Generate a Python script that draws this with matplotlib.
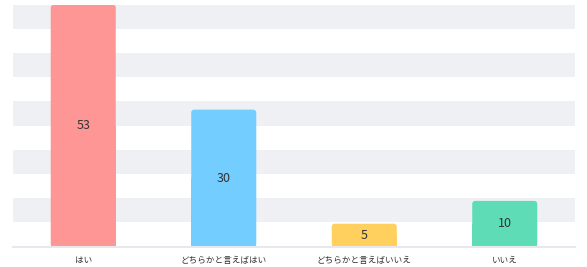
import matplotlib
matplotlib.use("Agg")
import matplotlib.pyplot as plt
from matplotlib.patches import FancyBboxPatch, Rectangle

plt.rcParams['font.family'] = ['Noto Sans CJK JP', 'DejaVu Sans']

categories = ["はい", "どちらかと言えばはい", "どちらかと言えばいいえ", "いいえ"]
values = [53, 30, 5, 10]
colors = ["#FF9696", "#73CDFF", "#FFD05E", "#5DDCB5"]
y_max = 53
n_bands = 10

W, H = 587, 267
fig = plt.figure(figsize=(W / 100, H / 100), dpi=100)
left, right, top, bottom = 13, 575, 4.7, 246.5
ax = fig.add_axes([left / W, (H - bottom) / H, (right - left) / W, (bottom - top) / H])

ax.set_xlim(-0.5, len(categories) - 0.5)
ax.set_ylim(0, y_max)

band = y_max / n_bands
for i in range(n_bands):
    if i % 2 == 1:
        ax.axhspan(i * band, (i + 1) * band, color="#EFF0F4", lw=0, zorder=0)

bars = ax.bar(range(len(categories)), values, width=0.463, color=colors, zorder=2)

# rounded top corners
px_x = (len(categories)) / (right - left)
px_y = y_max / (bottom - top)
for b, c in zip(bars, colors):
    x, y = b.get_x(), b.get_y()
    w, h = b.get_width(), b.get_height()
    b.set_visible(False)
    p = FancyBboxPatch((x, y), w, h,
                       boxstyle=f"round,pad=0,rounding_size={3 * px_x}",
                       mutation_aspect=px_y / px_x,
                       fc=c, ec="none", zorder=2)
    ax.add_patch(p)
    ax.add_patch(Rectangle((x, y), w, h / 2, fc=c, ec="none", zorder=2))
    ax.text(x + w / 2, h / 2, str(int(h)), ha="center", va="center",
            fontsize=9, color="#333333", zorder=3)

for s in ["top", "right", "left"]:
    ax.spines[s].set_visible(False)
ax.spines["bottom"].set_color("#E6E8EE")
ax.spines["bottom"].set_linewidth(1.5)
ax.set_yticks([])
ax.set_xticks(range(len(categories)))
ax.set_xticklabels(categories, fontsize=6.2, color="#333333")
ax.tick_params(axis="x", length=0, pad=7)

fig.savefig("out.png", dpi=100, facecolor="white")
